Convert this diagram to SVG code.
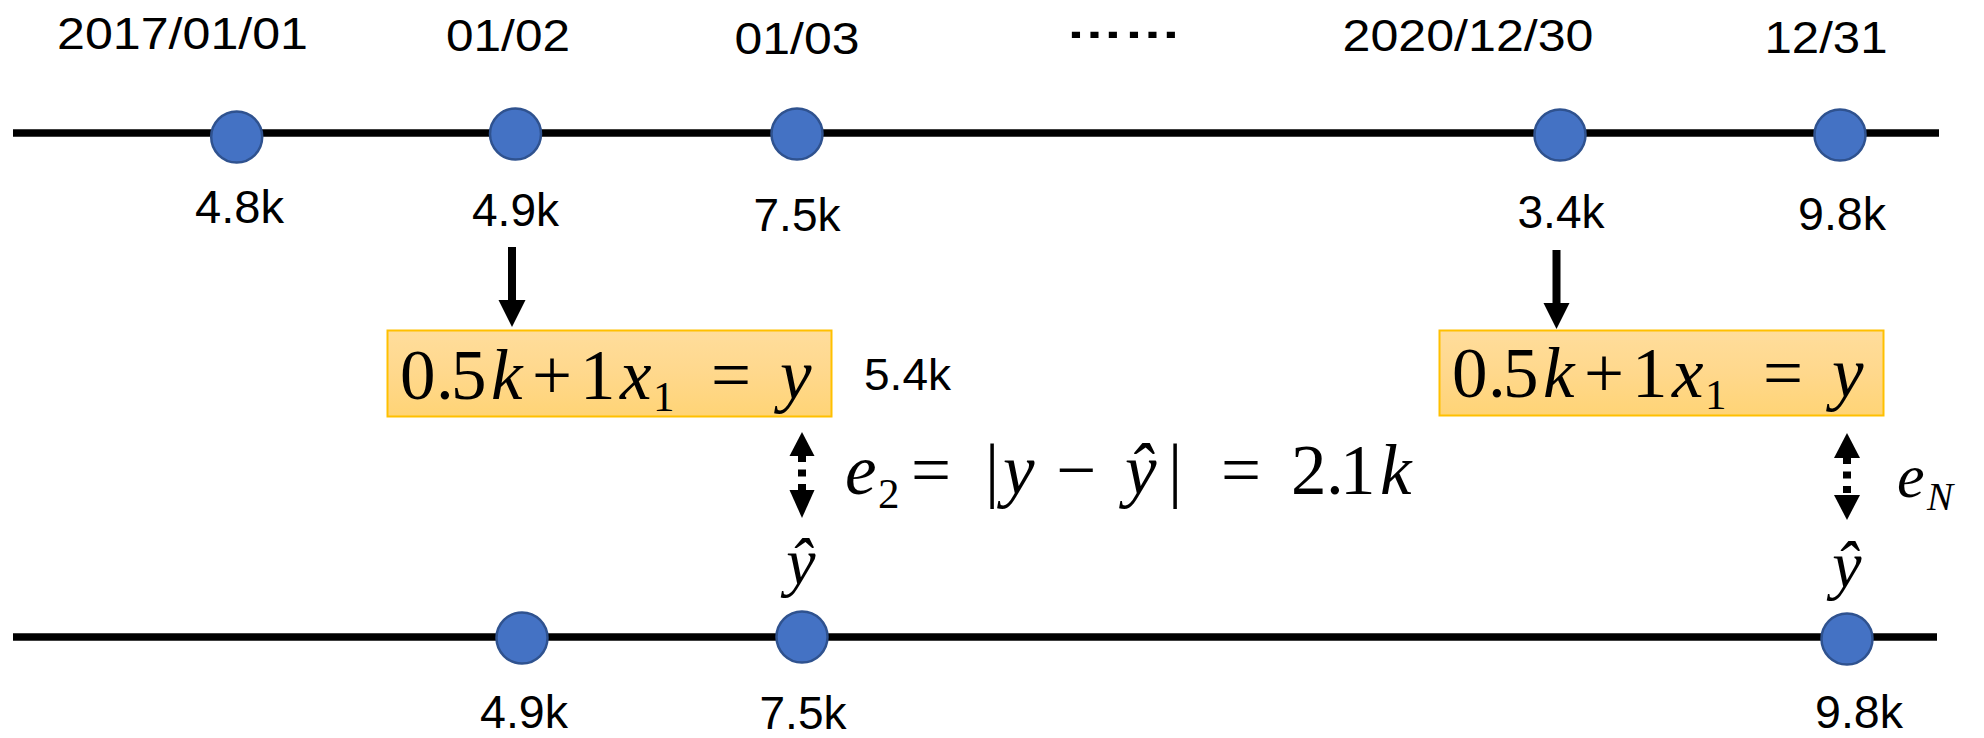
<svg xmlns="http://www.w3.org/2000/svg" width="1984" height="738" viewBox="0 0 1984 738">
<style>
.axis{stroke:#000;stroke-width:7.5;fill:none}
.dot{fill:#4472C4;stroke:#2F528F;stroke-width:2.5}
.date{font-family:"Liberation Sans",Arial,sans-serif;font-size:44px;fill:#000;text-anchor:middle}
.val{font-family:"Liberation Sans",Arial,sans-serif;font-size:47px;fill:#000;text-anchor:middle}
.math{font-family:"Liberation Serif","Times New Roman",serif;font-size:71px;fill:#000}
.it{font-style:italic}
.sub{font-size:43px}
.box{fill:url(#gold);stroke:#FFC000;stroke-width:2}
.shaft{stroke:#000;stroke-width:8}
.dash{stroke:#000;stroke-width:8;stroke-dasharray:7 7.5}
.head{fill:#000}
</style>
<defs>
<linearGradient id="gold" x1="0" y1="0" x2="0" y2="1">
<stop offset="0" stop-color="#FFDD9C"/>
<stop offset="0.5" stop-color="#FFD88C"/>
<stop offset="1" stop-color="#FFD476"/>
</linearGradient>
</defs>
<rect width="1984" height="738" fill="#fff"/>

<g id="axes">
<line class="axis" x1="13" y1="133" x2="1939" y2="133"/>
<line class="axis" x1="13" y1="637" x2="1937" y2="637"/>
</g>

<g id="top-2017-01-01">
<circle class="dot" cx="236.7" cy="137" r="25.5"/>
<text class="date" x="182.5" y="49" textLength="251" lengthAdjust="spacingAndGlyphs">2017/01/01</text>
<text class="val" x="239.5" y="223" textLength="89" lengthAdjust="spacingAndGlyphs">4.8k</text>
</g>
<g id="top-01-02">
<circle class="dot" cx="515.5" cy="134" r="25.5"/>
<text class="date" x="508" y="51" textLength="124" lengthAdjust="spacingAndGlyphs">01/02</text>
<text class="val" x="515.5" y="226" textLength="87" lengthAdjust="spacingAndGlyphs">4.9k</text>
</g>
<g id="top-01-03">
<circle class="dot" cx="797" cy="134" r="25.5"/>
<text class="date" x="797" y="54" textLength="125" lengthAdjust="spacingAndGlyphs">01/03</text>
<text class="val" x="797" y="231" textLength="87" lengthAdjust="spacingAndGlyphs">7.5k</text>
</g>
<g id="ellipsis">
<text class="date" x="1123.5" y="38" style="font-size:42px;font-weight:bold" textLength="116" lengthAdjust="spacingAndGlyphs">……</text>
</g>
<g id="top-2020-12-30">
<circle class="dot" cx="1560" cy="135" r="25.5"/>
<text class="date" x="1468" y="51" textLength="251" lengthAdjust="spacingAndGlyphs">2020/12/30</text>
<text class="val" x="1561" y="228" textLength="87" lengthAdjust="spacingAndGlyphs">3.4k</text>
</g>
<g id="top-12-31">
<circle class="dot" cx="1840" cy="135" r="25.5"/>
<text class="date" x="1826" y="53" textLength="123" lengthAdjust="spacingAndGlyphs">12/31</text>
<text class="val" x="1842" y="230" textLength="88" lengthAdjust="spacingAndGlyphs">9.8k</text>
</g>

<g id="model-1">
<rect class="box" x="387.5" y="330.5" width="444" height="86"/>
<text class="math" y="399"><tspan x="400">0</tspan><tspan x="436">.</tspan><tspan x="451">5</tspan><tspan class="it" x="491">k</tspan><tspan x="532">+</tspan><tspan x="580">1</tspan><tspan class="it" x="620">x</tspan><tspan class="sub" x="653" y="411">1</tspan><tspan x="711" y="399">=</tspan><tspan class="it" x="780">y</tspan></text>
<text class="val" x="907.5" y="390" style="font-size:45px" textLength="87" lengthAdjust="spacingAndGlyphs">5.4k</text>
</g>
<g id="model-2">
<rect class="box" x="1439.5" y="330.5" width="444" height="85"/>
<text class="math" y="397"><tspan x="1452">0</tspan><tspan x="1488">.</tspan><tspan x="1503">5</tspan><tspan class="it" x="1543">k</tspan><tspan x="1584">+</tspan><tspan x="1632">1</tspan><tspan class="it" x="1672">x</tspan><tspan class="sub" x="1705" y="409">1</tspan><tspan x="1763" y="397">=</tspan><tspan class="it" x="1832">y</tspan></text>
</g>

<g id="error-2">
<text class="math" y="494"><tspan class="it" x="845">e</tspan><tspan class="sub" x="878" y="508">2</tspan><tspan x="911" y="494">=</tspan><tspan x="985">|</tspan><tspan class="it" x="1003">y</tspan><tspan x="1056">−</tspan><tspan class="it" x="1125">ŷ</tspan><tspan x="1168">|</tspan><tspan x="1221">=</tspan><tspan x="1291">2</tspan><tspan x="1326">.</tspan><tspan x="1340">1</tspan><tspan class="it" x="1380">k</tspan></text>
</g>
<g id="error-N">
<text class="math" y="497"><tspan class="it" x="1897" style="font-size:62px">e</tspan><tspan class="it" x="1927" y="510" style="font-size:39px">N</tspan></text>
</g>

<g id="bottom-01-02">
<circle class="dot" cx="522" cy="638" r="25.5"/>
<text class="val" x="524" y="728" textLength="88" lengthAdjust="spacingAndGlyphs">4.9k</text>
</g>
<g id="bottom-01-03">
<circle class="dot" cx="802" cy="637" r="25.5"/>
<text class="val" x="803" y="729" textLength="87" lengthAdjust="spacingAndGlyphs">7.5k</text>
<text class="math it" x="801" y="584" style="font-size:66px;text-anchor:middle">ŷ</text>
</g>
<g id="bottom-12-31">
<circle class="dot" cx="1847" cy="639" r="25.5"/>
<text class="val" x="1859" y="728" textLength="88" lengthAdjust="spacingAndGlyphs">9.8k</text>
<text class="math it" x="1847" y="587" style="font-size:66px;text-anchor:middle">ŷ</text>
</g>

<g id="connectors">
<line class="shaft" x1="512" y1="247" x2="512" y2="302"/>
<polygon class="head" points="498.5,300 525.5,300 512,327"/>
<line class="shaft" x1="1556.5" y1="250" x2="1556.5" y2="305"/>
<polygon class="head" points="1543.5,303 1569.5,303 1556.5,329"/>
<polygon class="head" points="802,432 789.5,456 814.5,456"/>
<line class="dash" x1="802" y1="455" x2="802" y2="491"/>
<polygon class="head" points="789.5,490 814.5,490 802,518"/>
<polygon class="head" points="1847,433 1834,458 1860,458"/>
<line class="dash" x1="1847" y1="457" x2="1847" y2="494"/>
<polygon class="head" points="1834,495 1860,495 1847,520"/>
</g>
</svg>
